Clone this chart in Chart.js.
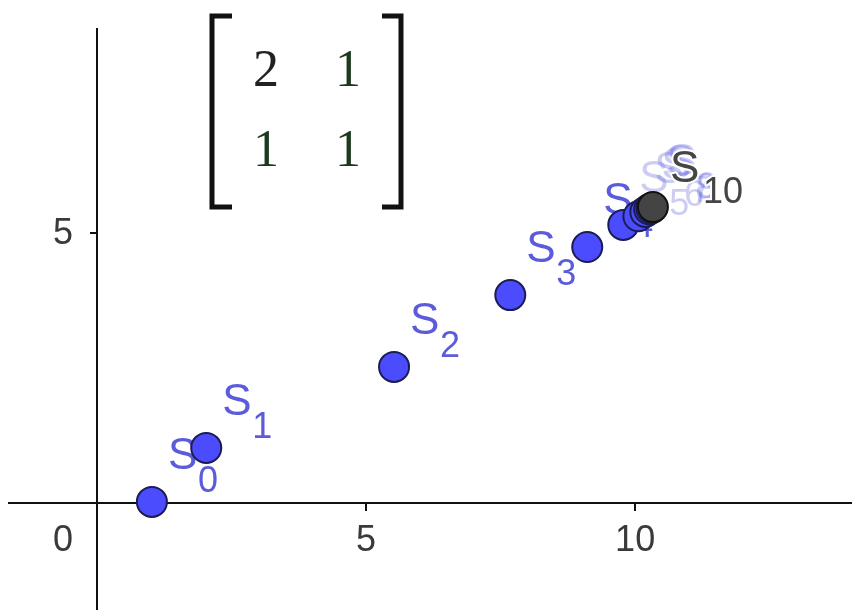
<!DOCTYPE html>
<html>
<head>
<meta charset="utf-8">
<script src="https://cdn.jsdelivr.net/npm/chart.js@4.4.1/dist/chart.umd.min.js"></script>
<style>
  html, body { margin: 0; padding: 0; background: #fff; overflow: hidden; }
  #wrap { width: 852px; height: 610px; position: relative; }
</style>
</head>
<body>
<div id="wrap"><canvas id="myChart"></canvas></div>
<script>
// iterates S_0 .. S_10
const subscripts = ['0', '1', '2', '3', '4', '5', '6', '7', '8', '9', '10'];
const xValues = [1.02, 2.03, 5.52, 7.68, 9.11, 9.78, 10.06, 10.19, 10.26, 10.30, 10.33];
const yValues = [0.02, 1.02, 2.52, 3.85, 4.74, 5.15, 5.31, 5.39, 5.44, 5.46, 5.48];

// matrix shown at the top
const matrix = [[2, 1], [1, 1]];

const xTickValues = [5, 10];
const yTickValues = [5];
const originLabel = '0';

const xMin = -1.654, xMax = 14.03;
const yMin = -1.981, yMax = 8.796;

const pointFill = '#4c4cff';
const lastFill = '#444444';
const labelBlue = '#5b5bdc';
const axisColor = '#111';
const tickText = '#3a3a3a';
const tickFontCss = '36px "Liberation Sans", Arial, sans-serif';

const last = xValues.length - 1;

// axes crossing at the origin, drawn from the chart's own scales
const axes = {
  id: 'axes',
  beforeDatasetsDraw(chart) {
    const ctx = chart.ctx;
    const { left, right, top, bottom } = chart.chartArea;
    const sx = chart.scales.x, sy = chart.scales.y;
    const ox = sx.getPixelForValue(0), oy = sy.getPixelForValue(0);
    ctx.save();
    ctx.strokeStyle = axisColor;
    ctx.lineWidth = 2;
    ctx.beginPath();
    ctx.moveTo(left, oy); ctx.lineTo(right, oy);
    ctx.moveTo(ox, top); ctx.lineTo(ox, bottom);
    xTickValues.forEach(v => {
      const px = Math.round(sx.getPixelForValue(v));
      ctx.moveTo(px, oy); ctx.lineTo(px, oy + 8);
    });
    yTickValues.forEach(v => {
      const py = Math.round(sy.getPixelForValue(v));
      ctx.moveTo(ox, py); ctx.lineTo(ox - 7, py);
    });
    ctx.stroke();

    ctx.fillStyle = tickText;
    ctx.font = tickFontCss;
    ctx.textBaseline = 'middle';
    ctx.textAlign = 'center';
    xTickValues.forEach(v => ctx.fillText(String(v), sx.getPixelForValue(v), oy + 38));
    ctx.textAlign = 'right';
    yTickValues.forEach(v => ctx.fillText(String(v), ox - 24, sy.getPixelForValue(v) + 1));
    ctx.fillText(originLabel, ox - 24, oy + 38);
    ctx.restore();
  }
};

const pointLabels = {
  id: 'pointLabels',
  beforeDatasetsDraw(chart) {
    const ctx = chart.ctx;
    const pts = chart.getDatasetMeta(0).data;
    ctx.save();
    ctx.textBaseline = 'alphabetic';
    ctx.textAlign = 'left';
    pts.forEach((p, i) => {
      if (i === last) return;
      ctx.globalAlpha = i >= 5 ? 0.3 : 1;
      ctx.fillStyle = labelBlue;
      ctx.font = '44px "Liberation Sans", Arial, sans-serif';
      ctx.fillText('S', p.x + 16, p.y - 33);
      ctx.font = '36px "Liberation Sans", Arial, sans-serif';
      ctx.fillText(subscripts[i], p.x + 46, p.y - 10);
    });
    // last iterate, with a white halo so it sits above the crowded labels
    const p = pts[last];
    ctx.globalAlpha = 1;
    ctx.strokeStyle = '#fff';
    ctx.lineWidth = 4;
    ctx.lineJoin = 'round';
    ctx.fillStyle = '#454545';
    ctx.font = '44px "Liberation Sans", Arial, sans-serif';
    ctx.strokeText('S', p.x + 17, p.y - 25);
    ctx.fillText('S', p.x + 17, p.y - 25);
    ctx.font = '36px "Liberation Sans", Arial, sans-serif';
    ctx.strokeText(subscripts[last], p.x + 50, p.y - 4);
    ctx.fillText(subscripts[last], p.x + 50, p.y - 4);
    ctx.restore();
  }
};

const matrixBox = {
  id: 'matrixBox',
  afterDraw(chart) {
    const ctx = chart.ctx;
    ctx.save();
    ctx.strokeStyle = axisColor;
    ctx.lineWidth = 5;
    ctx.beginPath();
    ctx.moveTo(232, 16); ctx.lineTo(212, 16); ctx.lineTo(212, 207); ctx.lineTo(232, 207);
    ctx.moveTo(382, 16); ctx.lineTo(401, 16); ctx.lineTo(401, 207); ctx.lineTo(382, 207);
    ctx.stroke();

    ctx.font = '52px "Liberation Serif", "DejaVu Serif", serif';
    ctx.textAlign = 'center';
    ctx.textBaseline = 'middle';
    const colX = [266, 348], rowY = [70, 150];
    matrix.forEach((row, r) => row.forEach((v, c) => {
      ctx.fillStyle = (r === 0 && c === 0) ? '#222222' : '#1e3a1e';
      ctx.fillText(String(v), colX[c], rowY[r] + 2);
    }));
    ctx.restore();
  }
};

new Chart(document.getElementById('myChart'), {
  type: 'scatter',
  data: {
    datasets: [{
      data: xValues.map((x, i) => ({ x: x, y: yValues[i] })),
      backgroundColor: xValues.map((_, i) => i === last ? lastFill : pointFill),
      borderColor: xValues.map((_, i) => i === last ? '#111111' : '#1c1c55'),
      borderWidth: 2,
      pointRadius: 15,
      pointHoverRadius: 15,
      clip: false
    }]
  },
  options: {
    responsive: true,
    maintainAspectRatio: false,
    animation: false,
    events: [],
    layout: { autoPadding: false, padding: { left: 8, top: 28, right: 0, bottom: 0 } },
    plugins: { legend: { display: false }, tooltip: { enabled: false } },
    scales: {
      x: { type: 'linear', min: xMin, max: xMax, display: false },
      y: { type: 'linear', min: yMin, max: yMax, display: false }
    }
  },
  plugins: [axes, pointLabels, matrixBox]
});
</script>
</body>
</html>
